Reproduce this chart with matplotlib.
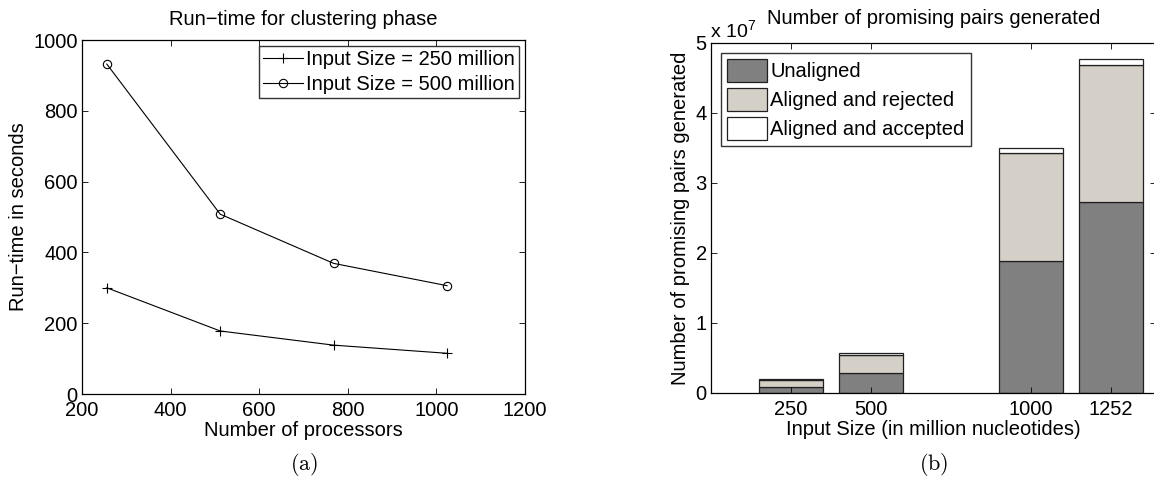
import matplotlib
matplotlib.use("Agg")
import matplotlib.pyplot as plt
import numpy as np
from matplotlib.ticker import FuncFormatter
from matplotlib.patches import Patch

# ---- data: panel (a)
processors = [256, 512, 768, 1024]
runtime_250 = [300, 178, 138, 115]
runtime_500 = [932, 508, 369, 306]

# ---- data: panel (b)
input_sizes = ["250", "500", "1000", "1252"]
bar_positions = [1, 2, 4, 5]
unaligned = [0.09e7, 0.288e7, 1.89e7, 2.73e7]
aligned_rejected = [0.095e7, 0.262e7, 1.54e7, 1.96e7]
aligned_accepted = [0.008e7, 0.024e7, 0.07e7, 0.08e7]

plt.rcParams['font.family'] = ['Liberation Sans', 'DejaVu Sans']
plt.rcParams['mathtext.fontset'] = 'custom'
plt.rcParams['mathtext.rm'] = 'Liberation Sans'
plt.rcParams['mathtext.it'] = 'Liberation Sans:italic'
FS = 14.5

W, H = 1154, 479
fig = plt.figure(figsize=(W / 100, H / 100), dpi=100)

def px_axes(l, t, r, b):
    return fig.add_axes([l / W, 1 - b / H, (r - l) / W, (b - t) / H])

def style(ax):
    ax.tick_params(direction='in', length=4, width=0.6, labelsize=FS,
                   top=True, right=True, colors='black')
    ax.tick_params(axis='x', pad=5)
    ax.tick_params(axis='y', pad=3)
    for s in ax.spines.values():
        s.set_linewidth(0.9)
        s.set_color('black')

# ---- panel (a)
ax1 = px_axes(82, 40, 525, 394)
ax1.plot(processors, runtime_250, color='black', lw=0.8, marker='+', ms=7,
         mew=0.8, label='Input Size = 250 million')
ax1.plot(processors, runtime_500, color='black', lw=0.8, marker='o', ms=6,
         mfc='none', mew=0.8, label='Input Size = 500 million')
ax1.set_xlim(200, 1200)
ax1.set_ylim(0, 1000)
ax1.set_xticks(np.arange(200, 1201, 200))
ax1.set_yticks(np.arange(0, 1001, 200))
style(ax1)
ax1.set_title('Run\u2212time for clustering phase', fontsize=FS, pad=11)
ax1.set_xlabel('Number of processors', fontsize=FS, labelpad=1)
ax1.set_ylabel('Run\u2212time in seconds', fontsize=FS, labelpad=4)
leg1 = ax1.legend(loc='upper right', fontsize=FS, frameon=True, fancybox=False,
                  edgecolor='black', handlelength=2.0, handletextpad=0.15,
                  borderpad=0.2, labelspacing=0.3, borderaxespad=0.3)
leg1.get_frame().set_linewidth(1.0)

# ---- panel (b)
ax2 = px_axes(711, 43, 1156, 393)
c_un, c_rej, c_acc = '#808080', '#d4d0c8', '#ffffff'
bottoms2 = np.array(unaligned)
bottoms3 = bottoms2 + np.array(aligned_rejected)
ax2.bar(bar_positions, unaligned, width=0.8, color=c_un, edgecolor='#202020', lw=0.9)
ax2.bar(bar_positions, aligned_rejected, width=0.8, bottom=bottoms2, color=c_rej,
        edgecolor='#202020', lw=0.9)
ax2.bar(bar_positions, aligned_accepted, width=0.8, bottom=bottoms3, color=c_acc,
        edgecolor='#202020', lw=0.9)
ax2.set_xlim(0, 5.5625)
ax2.set_ylim(0, 5e7)
ax2.set_xticks(bar_positions)
ax2.set_xticklabels(input_sizes)
ax2.set_yticks(np.arange(0, 5.01e7, 1e7))
ax2.yaxis.set_major_formatter(FuncFormatter(lambda v, p: f'{v / 1e7:g}'))
style(ax2)
ax2.set_title('Number of promising pairs generated', fontsize=FS, pad=14)
ax2.set_xlabel('Input Size (in million nucleotides)', fontsize=FS, labelpad=1)
ax2.set_ylabel('Number of promising pairs generated', fontsize=FS, labelpad=4)
fig.text(710 / W, 1 - 41 / H, r'$\mathregular{x\ 10^7}$', fontsize=FS - 0.5,
         ha='left', va='bottom')
handles = [Patch(facecolor=c_un, edgecolor='#202020', lw=0.9),
           Patch(facecolor=c_rej, edgecolor='#202020', lw=0.9),
           Patch(facecolor=c_acc, edgecolor='#202020', lw=0.9)]
leg2 = ax2.legend(handles, ['Unaligned', 'Aligned and rejected', 'Aligned and accepted'],
                  loc='upper left', fontsize=FS, frameon=True, fancybox=False,
                  edgecolor='black', handlelength=2.0, handleheight=1.4,
                  handletextpad=0.15, borderpad=0.3, labelspacing=0.28,
                  borderaxespad=0.5)
leg2.get_frame().set_linewidth(1.0)

# ---- sub-captions
fig.text(304 / W, 1 - 464 / H, r'$\mathrm{(a)}$', math_fontfamily='cm',
         fontsize=16, ha='center', va='center')
fig.text(934 / W, 1 - 464 / H, r'$\mathrm{(b)}$', math_fontfamily='cm',
         fontsize=16, ha='center', va='center')

fig.savefig('out.png', dpi=100)
